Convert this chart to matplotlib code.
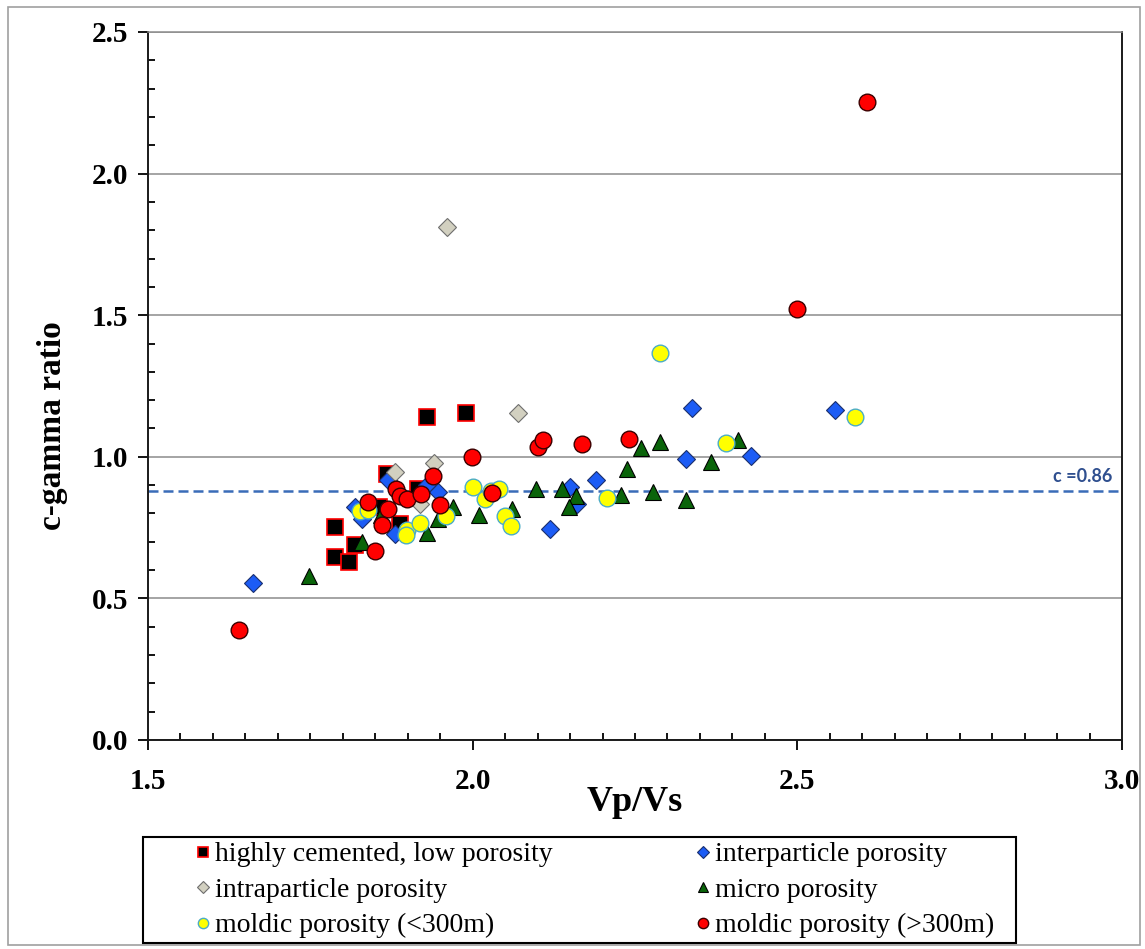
import matplotlib
matplotlib.use("Agg")
import matplotlib.pyplot as plt
from matplotlib.patches import Rectangle
from matplotlib.ticker import MultipleLocator

# ── data (Vp/Vs, c-gamma ratio)
cemented_x = [1.930, 1.989, 1.868, 1.916, 1.855, 1.888, 1.788, 1.819, 1.788, 1.810]
cemented_y = [1.140, 1.155, 0.940, 0.885, 0.823, 0.764, 0.752, 0.688, 0.646, 0.629]

inter_x = [1.661, 1.870, 1.930, 1.947, 1.819, 1.829, 1.880, 2.338, 2.329, 2.429,
           2.190, 2.150, 2.160, 2.119, 2.558]
inter_y = [0.555, 0.917, 0.899, 0.876, 0.823, 0.781, 0.729, 1.173, 0.993, 1.003,
           0.919, 0.893, 0.834, 0.746, 1.167]

intra_x = [1.960, 2.070, 1.940, 1.880, 1.919]
intra_y = [1.812, 1.155, 0.978, 0.948, 0.835]

micro_x = [1.748, 1.829, 1.929, 1.947, 1.970, 2.009, 2.060, 2.098, 1.859, 2.137,
           2.159, 2.149, 2.229, 2.237, 2.259, 2.289, 2.278, 2.329, 2.367, 2.409]
micro_y = [0.579, 0.699, 0.731, 0.781, 0.823, 0.793, 0.817, 0.888, 0.793, 0.887,
           0.860, 0.823, 0.864, 0.957, 1.032, 1.053, 0.876, 0.846, 0.981, 1.060]

moldic_lo_x = [1.827, 1.839, 1.899, 1.898, 1.919, 1.959, 2.000, 2.019, 2.029, 2.040,
               2.050, 2.059, 2.207, 2.390, 2.589, 2.289]
moldic_lo_y = [0.808, 0.811, 0.740, 0.723, 0.766, 0.790, 0.893, 0.851, 0.881, 0.887,
               0.790, 0.755, 0.856, 1.048, 1.142, 1.368]

moldic_hi_x = [1.640, 2.608, 2.499, 1.999, 1.939, 1.882, 1.888, 1.899, 1.920, 1.949,
               1.839, 1.870, 1.860, 1.850, 2.030, 2.101, 2.109, 2.169, 2.240]
moldic_hi_y = [0.388, 2.253, 1.522, 0.999, 0.931, 0.887, 0.860, 0.851, 0.867, 0.829,
               0.840, 0.817, 0.758, 0.667, 0.872, 1.034, 1.058, 1.044, 1.063]

cutoff_y = 0.878
cutoff_label = "c =0.86"

plt.rcParams["font.family"] = ["Liberation Serif", "DejaVu Serif"]

W, H = 1145, 949
fig = plt.figure(figsize=(W / 100, H / 100), dpi=100)
ax = fig.add_axes([148 / W, 1 - 740 / H, 974 / W, 708 / H])

# light frame round the whole picture
fig.patches.append(Rectangle((8 / W, 4 / H), 1132 / W, 938 / H, transform=fig.transFigure,
                             fill=False, edgecolor="#a0a0a0", linewidth=1.2))

ax.set_xlim(1.5, 3.0)
ax.set_ylim(0.0, 2.5)
ax.yaxis.grid(True, color="#8c8c8c", linewidth=1.1)
ax.set_axisbelow(True)

ax.axhline(cutoff_y, color="#3a6cb8", linestyle=(0, (4, 2)), linewidth=1.8, zorder=1)
ax.text(2.985, cutoff_y + 0.022, cutoff_label, ha="right", va="bottom",
        fontsize=13, fontweight="bold", color="#2f4f8f", family="Lato")

ax.plot(cemented_x, cemented_y, "s", ms=12, mfc="black", mec="#ff0000", mew=1.2,
        ls="none", label="highly cemented, low porosity", zorder=3)
ax.plot(inter_x, inter_y, "D", ms=9.5, mfc="#1c5cf5", mec="#1a2f6e", mew=0.8,
        ls="none", label="interparticle porosity", zorder=3)
ax.plot(intra_x, intra_y, "D", ms=9.5, mfc="#d2d0c0", mec="#6e6e6e", mew=0.8,
        ls="none", label="intraparticle porosity", zorder=3)
ax.plot(micro_x, micro_y, "^", ms=12, mfc="#0a640a", mec="black", mew=0.8,
        ls="none", label="micro porosity", zorder=3)
ax.plot(moldic_lo_x, moldic_lo_y, "o", ms=12, mfc="#ffff00", mec="#4bacc6", mew=1.0,
        ls="none", label="moldic porosity (<300m)", zorder=3)
ax.plot(moldic_hi_x, moldic_hi_y, "o", ms=12, mfc="#ff0000", mec="#3a0000", mew=1.0,
        ls="none", label="moldic porosity (>300m)", zorder=3)

ax.xaxis.set_major_locator(MultipleLocator(0.5))
ax.xaxis.set_minor_locator(MultipleLocator(0.05))
ax.yaxis.set_major_locator(MultipleLocator(0.5))
ax.yaxis.set_minor_locator(MultipleLocator(0.1))
ax.xaxis.set_major_formatter(lambda v, p: f"{v:.1f}")
ax.yaxis.set_major_formatter(lambda v, p: f"{v:.1f}")
ax.tick_params(which="major", direction="out", length=7, width=1.3, labelsize=21)
ax.tick_params(axis="x", which="major", pad=13)
ax.tick_params(axis="y", which="major", pad=7)
ax.tick_params(which="minor", direction="in", length=5, width=1.3)
for lab in ax.get_xticklabels() + ax.get_yticklabels():
    lab.set_fontweight("bold")

for side in ["left", "bottom", "right"]:
    ax.spines[side].set_color("#1a1a1a")
    ax.spines[side].set_linewidth(1.4)
ax.spines["top"].set_color("#8c8c8c")
ax.spines["top"].set_linewidth(1.1)

ax.set_xlabel("Vp/Vs", fontsize=26, fontweight="bold", labelpad=-6)
# y title sits a bit low, as in the source chart
fig.text(52 / W, 1 - 426 / H, "c-gamma ratio", rotation=90, ha="center", va="center",
         fontsize=24, fontweight="bold")

# legend box drawn by hand, two single-column legends inside it
fig.patches.append(Rectangle((143 / W, 1 - 943 / H), 873 / W, 106 / H,
                             transform=fig.transFigure, fill=False,
                             edgecolor="black", linewidth=1.5))
h, l = ax.get_legend_handles_labels()
leg_kw = dict(fontsize=20, markerscale=0.62, handlelength=0.5, handletextpad=0.2,
              borderpad=0.0, labelspacing=0.36, frameon=False, borderaxespad=0.0,
              loc="upper left")
leg1 = fig.legend([h[0], h[2], h[4]], [l[0], l[2], l[4]],
                  bbox_to_anchor=(196 / W, 1 - 842 / H), **leg_kw)
leg2 = fig.legend([h[1], h[3], h[5]], [l[1], l[3], l[5]],
                  bbox_to_anchor=(696 / W, 1 - 842 / H), **leg_kw)

fig.savefig("out.png", dpi=100)
